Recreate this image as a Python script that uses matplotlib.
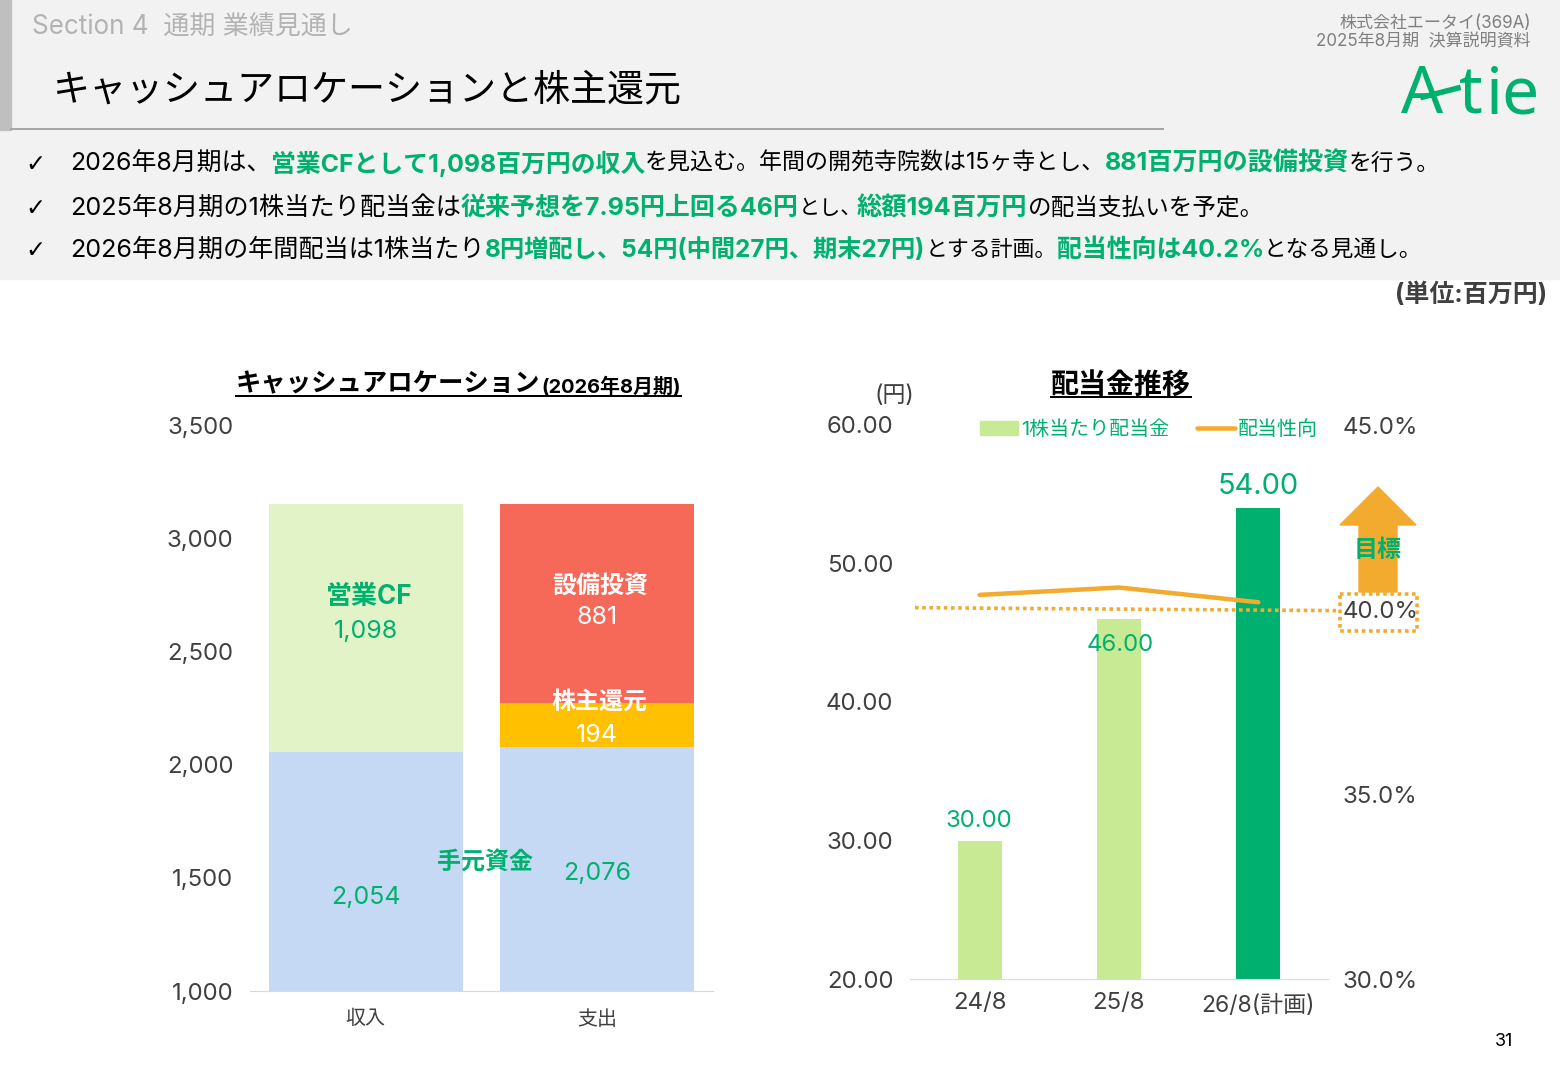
import matplotlib
matplotlib.use("Agg")
import matplotlib.pyplot as plt
from matplotlib.lines import Line2D
from matplotlib.patches import Polygon, Rectangle
from matplotlib.transforms import ScaledTranslation

# Inter first so digits come out wide like the slide, CJK falls through
plt.rcParams['font.family'] = ['Inter', 'Noto Sans CJK JP', 'DejaVu Sans']

GREEN  = "#00B06F"
ORANGE = "#F3AB2F"
DARK   = "#404040"

categories   = ["収入", "支出"]
cash_on_hand = [2054, 2076]
operating_cf = [1098, 0]
dividends    = [0, 194]
capex        = [0, 881]

years         = ["24/8", "25/8", "26/8(計画)"]
dps           = [30.00, 46.00, 54.00]
payout        = [40.4, 40.6, 40.2]
payout_target = [40.0, 40.0]

lines_text = [
    [("2026年8月期は、", False), ("営業CFとして1,098百万円の収入", True),
     ("を見込む。年間の開苑寺院数は15ヶ寺とし、", False),
     ("881百万円の設備投資", True), ("を行う。", False)],
    [("2025年8月期の1株当たり配当金は", False), ("従来予想を7.95円上回る46円", True),
     ("とし、", False), ("総額194百万円", True), ("の配当支払いを予定。", False)],
    [("2026年8月期の年間配当は1株当たり", False),
     ("8円増配し、54円(中間27円、期末27円)", True), ("とする計画。", False),
     ("配当性向は40.2%", True), ("となる見通し。", False)],
]
lines_x = [
    [70, 271, 645, 1105, 1349, 1440],
    [70, 461, 799, 857, 1028, 1264],
    [70, 485, 926, 1057, 1264, 1422],
]
lines_y = [163, 207, 249]

fig = plt.figure(figsize=(15.6, 10.8), dpi=100, facecolor="white")
renderer = fig.canvas.get_renderer()


def px(size) :
    return size * 0.72


def put(x, y, s, size, color="black", ha="center", weight="normal", **kw) :
    # text sits a few px high with va=center
    return fig.text(x / 1560, 1 - (y + 6) / 1080, s, fontsize=px(size), color=color,
                    ha=ha, va=kw.pop("va", "center"), fontweight=weight, **kw)


def fit(t, width) :
    # squeeze or grow a run so it fills its slot
    have = t.get_window_extent(renderer).width
    t.set_fontsize(t.get_fontsize() * min(1.06, max(0.88, width / have)))


def rule(xs, ys, color, width, **kw) :
    fig.add_artist(Line2D([x / 1560 for x in xs], [1 - y / 1080 for y in ys],
                          color=color, lw=px(width), **kw))


def box(x0, y0, x1, y1) :
    return [x0 / 1560, 1 - y1 / 1080, (x1 - x0) / 1560, (y1 - y0) / 1080]


# header
fig.add_artist(Rectangle((0, 1 - 279 / 1080), 1, 279 / 1080, color="#F2F2F2", zorder=-2))
fig.add_artist(Rectangle((0, 1 - 130 / 1080), 11 / 1560, 130 / 1080, color="#BFBFBF", zorder=-1))
rule([11, 1163], [129, 129], "#A6A6A6", 2)
put(32, 22, "Section 4  通期 業績見通し", 26, "#B3B3B3", ha="left")
fit(put(52, 84, "キャッシュアロケーションと株主還元", 37, "black", ha="left"), 630)
put(1531, 17, "株式会社エータイ(369A)", 17, "#7F7F7F", ha="right")
put(1531, 36, "2025年8月期  決算説明資料", 17, "#7F7F7F", ha="right")

# logo
logo = ['Noto Sans']
put(1401, 107, "A", 66, GREEN, ha="left", va="baseline", family=logo)
put(1471, 107, "t", 66, GREEN, va="baseline", family=logo)
put(1486, 107, "ie", 66, GREEN, ha="left", va="baseline", family=logo)
rule([1423, 1458], [97, 88], GREEN, 5.5)

for y, xs, segments in zip(lines_y, lines_x, lines_text) :
    put(35, y - 5, "✓", 24, "black", family=['DejaVu Sans'])
    for i, (s, hot) in enumerate(segments) :
        t = put(xs[i], y - 5, s, 24, GREEN if hot else "black", ha="left",
                weight="bold" if hot else "normal")
        fit(t, xs[i + 1] - xs[i])

put(1547, 289, "(単位:百万円)", 25, DARK, ha="right", weight="bold")

# cash allocation
ax = fig.add_axes(box(250, 425, 713, 991))
bottom = [0, 0]
for vals, col in [(cash_on_hand, "#C5D9F4"), (operating_cf, "#E3F3C8"),
                  (dividends, "#FFC000"), (capex, "#F66858")] :
    ax.bar(range(2), vals, 0.836, bottom=bottom, color=col)
    bottom = [b + v for b, v in zip(bottom, vals)]
ax.set_xlim(-0.5, 1.5)
ax.set_ylim(1000, 3500)
ax.set_yticks(range(1000, 3501, 500))
ax.set_yticklabels([f"{v:,}" for v in range(1000, 3501, 500)], fontsize=px(24), color=DARK)
ax.set_xticks(range(2))
ax.set_xticklabels(categories, fontsize=px(20), color=DARK)
ax.tick_params(length=0)
ax.tick_params(axis="x", pad=13.5)
ax.tick_params(axis="y", pad=12)
for side in ["top", "right", "left"] :
    ax.spines[side].set_visible(False)
ax.spines["bottom"].set_color("#D9D9D9")

fit(put(236, 379, "キャッシュアロケーション", 25.5, "black", ha="left", weight="bold"), 304)
put(541, 381, "(2026年8月期)", 20, "black", ha="left", weight="bold")
rule([236, 681], [396, 396], "black", 2)

put(369, 591, "営業CF", 26, GREEN, weight="bold")
put(366, 625, f"{operating_cf[0]:,}", 25, GREEN)
put(366, 891, f"{cash_on_hand[0]:,}", 25, GREEN)
put(485, 856, "手元資金", 24, GREEN, weight="bold")
put(597, 867, f"{cash_on_hand[1]:,}", 25, GREEN)
put(600, 580, "設備投資", 24, "white", weight="bold")
put(597, 612, f"{capex[1]:,}", 25, "white")
put(600, 696, "株主還元", 24, "white", weight="bold")
put(597, 729, f"{dividends[1]:,}", 25, "white")

# dividend trend
ax2 = fig.add_axes(box(910, 425, 1328, 979))
ax2.bar(range(3), dps, 0.315, color=["#C8EA94", "#C8EA94", GREEN])
ax2.set_xlim(-0.5, 2.5)
ax2.set_ylim(20, 60)
ax2.set_yticks(range(20, 61, 10))
ax2.set_yticklabels([f"{v:.2f}" for v in range(20, 61, 10)], fontsize=px(24), color=DARK)
ax2.set_xticks(range(3))
ax2.set_xticklabels(years, fontsize=px(24), color=DARK)
ax2.tick_params(length=0)
ax2.tick_params(axis="x", pad=9.5)
ax2.tick_params(axis="y", pad=12)
plan = ax2.get_xticklabels()[2]
plan.set_fontsize(px(23))
plan.set_transform(plan.get_transform() + ScaledTranslation(0, -3 / 100, fig.dpi_scale_trans))
for side in ["top", "right", "left"] :
    ax2.spines[side].set_visible(False)
ax2.spines["bottom"].set_color("#D9D9D9")

ax3 = ax2.twinx()
ax3.plot(range(3), payout, color=ORANGE, lw=px(4.5), solid_capstyle="round")
ax3.set_ylim(30, 45)
ax3.set_yticks([30, 35, 40, 45])
ax3.set_yticklabels([f"{v:.1f}%" for v in [30, 35, 40, 45]], fontsize=px(24), color=DARK)
ax3.tick_params(length=0, pad=10.5)
for side in ["top", "right", "left", "bottom"] :
    ax3.spines[side].set_visible(False)

handles = [Rectangle((0, 0), 1, 0.5, color="#C8EA94"), ax3.get_lines()[0]]
fig.legend(handles, ["1株当たり配当金", "配当性向"], ncol=2, frameon=False,
           loc="center", bbox_to_anchor=(1149 / 1560, 1 - 430 / 1080),
           fontsize=px(20), labelcolor=GREEN, handlelength=1.9, handletextpad=0.15,
           columnspacing=1.35)

put(1051, 379, "配当金推移", 28, "black", ha="left", weight="bold")
rule([1051, 1191], [397, 397], "black", 2)
put(894, 390, "(円)", 23, DARK)

label_sizes = [24, 24, 29]
label_y     = [815, 639, 480]
label_x     = [979, 1120, 1258]
for v, size, x, y in zip(dps, label_sizes, label_x, label_y) :
    put(x, y, f"{v:.2f}", size, GREEN)

# target arrow and dotted target line
y_target = [979 - (v - 30) * 554 / 15 for v in payout_target]
rule([915, 1340], [y_target[0] - 2, y_target[1] + 1], ORANGE, 3.6, linestyle=(0, (1, 1)))
arrow = [(1378, 487), (1416, 525), (1397, 525), (1397, 592), (1359, 592), (1359, 525), (1340, 525)]
fig.add_artist(Polygon([(x / 1560, 1 - y / 1080) for x, y in arrow], color=ORANGE, zorder=1))
put(1378, 545, "目標", 24, GREEN, weight="bold")
rule([1340, 1417, 1417, 1340, 1340], [594, 594, 631, 631, 594], ORANGE, 3.6, linestyle=(0, (1, 1)))

put(1504, 1035, "31", 18, "black")

fig.savefig("out.png", dpi=100)
